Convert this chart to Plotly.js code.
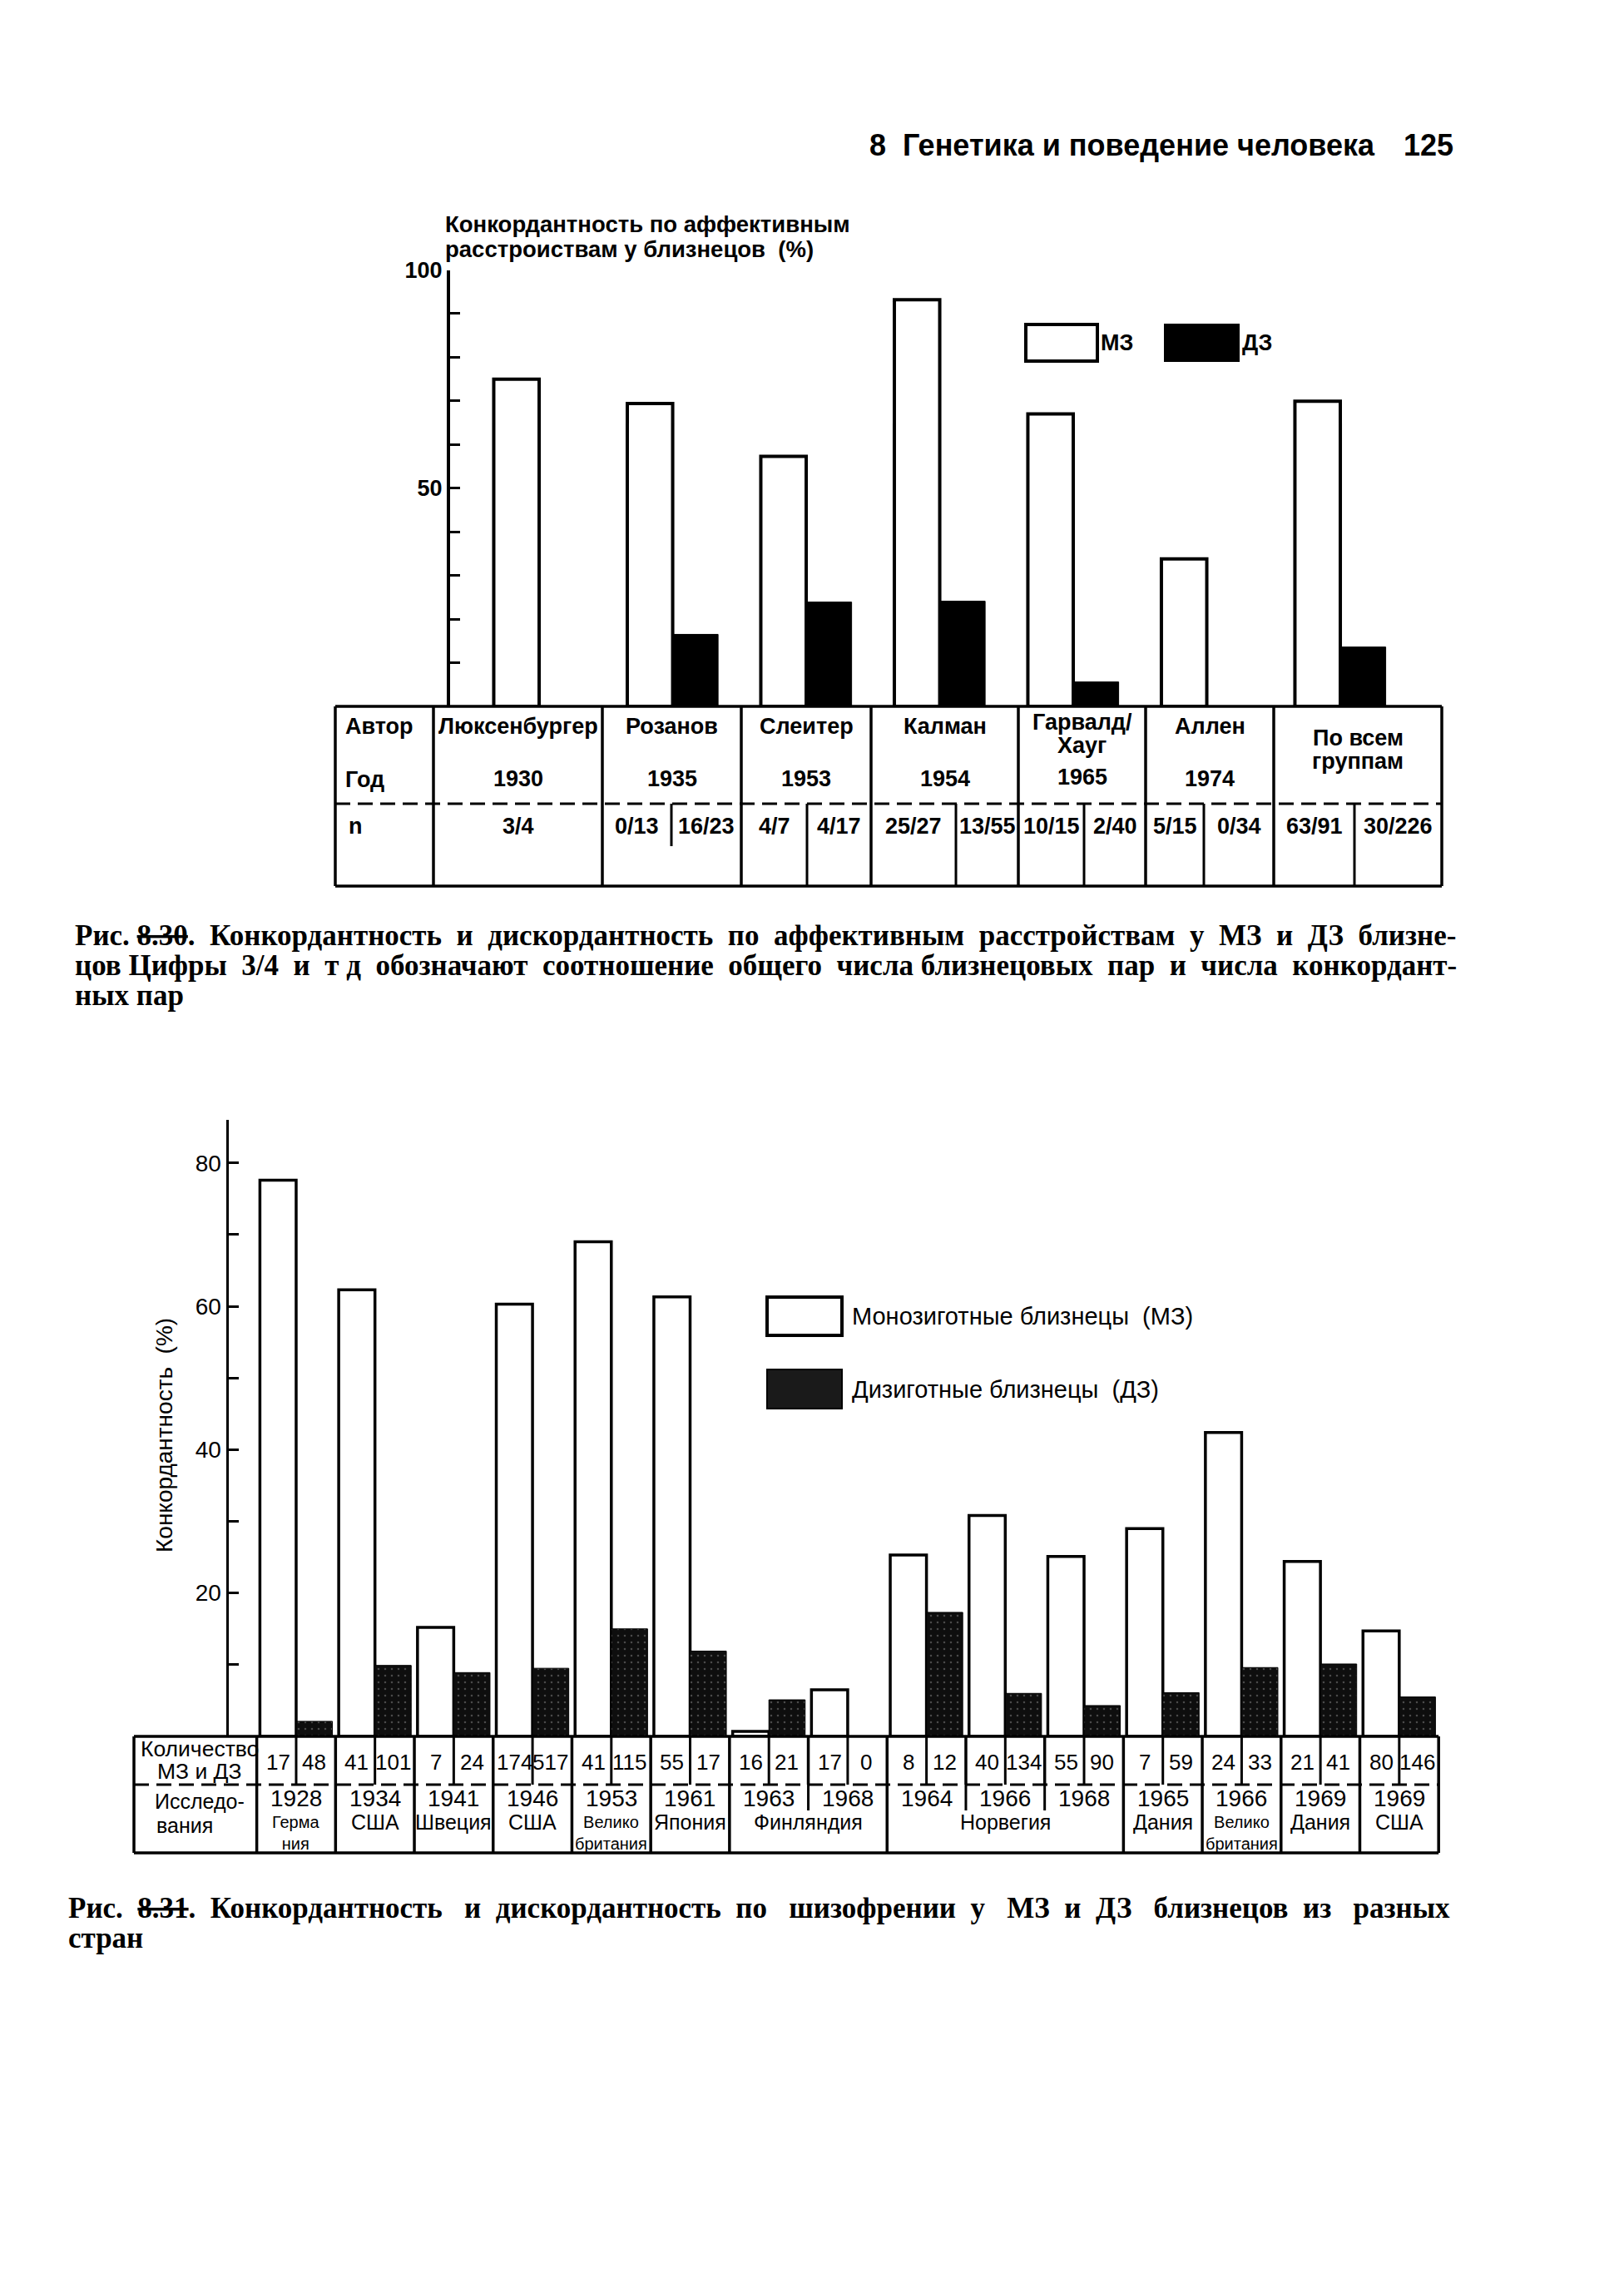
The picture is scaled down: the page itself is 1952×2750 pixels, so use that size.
<!DOCTYPE html>
<html><head><meta charset="utf-8">
<script src="https://cdn.plot.ly/plotly-3.0.1.min.js"></script>
<style>html,body{margin:0;padding:0;background:#fff}</style>
</head><body>
<div id="page" style="width:1952px;height:2750px"></div>
<script>
// ================= DATA =================
// Fig. 8.30 (affective disorders)
const authors1  = ['Люксенбургер','Розанов','Слеитер','Калман','Гарвалд/|Хауг','Аллен','По всем|группам'];
const years1    = ['1930','1935','1953','1954','1965','1974',''];
const nLeft1    = ['3/4','0/13','4/7','25/27','10/15','5/15','63/91'];
const nRight1   = ['','16/23','4/17','13/55','2/40','0/34','30/226'];
const mz1       = [75.0, 69.4, 57.3, 93.2, 67.0, 33.8, 69.9];
const dz1       = [null, 16.5, 23.9, 24.1, 5.6, 0, 13.6];
const tick1Vals   = [10,20,30,40,50,60,70,80,90,100];
const tick1Labels = ['','','','','50','','','','','100'];

// Fig. 8.31 (schizophrenia)
const studyYears2     = ['1928','1934','1941','1946','1953','1961','1963','1968','1964','1966','1968','1965','1966','1969','1969'];
const studyCountries2 = ['Герма|ния','США','Швеция','США','Велико|британия','Япония','Финляндия','Финляндия','Норвегия','Норвегия','Норвегия','Дания','Велико|британия','Дания','США'];
const mzN2 = [17,41,7,174,41,55,16,17,8,40,55,7,24,21,80];
const dzN2 = [48,101,24,517,115,17,21,0,12,134,90,59,33,41,146];
const mz2  = [77.6, 62.3, 15.2, 60.3, 69.0, 61.3, 0.7, 6.5, 25.3, 30.8, 25.1, 29.0, 42.4, 24.4, 14.7];
const dz2  = [2.1, 9.9, 8.9, 9.5, 15.0, 11.9, 5.1, 0, 17.3, 6.0, 4.3, 6.1, 9.6, 10.1, 5.5];
const tick2Vals   = [10,20,30,40,50,60,70,80];
const tick2Labels = ['','20','','40','','60','','80'];

// captions
const caption1 = [
  'Рис. <s>8.30</s>. Конкордантность и дискордантность по аффективным расстройствам у МЗ и ДЗ близне-',
  'цов Цифры 3/4 и т д обозначают соотношение общего числа близнецовых пар и числа конкордант-',
  'ных пар'
];
const caption2 = [
  'Рис. <s>8.31</s>. Конкордантность и дискордантность по шизофрении у МЗ и ДЗ близнецов из разных',
  'стран'
];

// ================= LAYOUT HELPERS =================
const W = 1952, H = 2750;
const fx = p => p / W;
const fy = p => 1 - p / H;
const SANS = 'Liberation Sans, Arial, Helvetica, sans-serif';
const SERIF = 'Liberation Serif, Times New Roman, serif';
const BLACK = '#000';
const NUMFONT = {family:SANS, size:26, color:BLACK};

const shapes = [];
const annotations = [];
function hline(x0, x1, y, w, dash) {
  shapes.push({type:'line', xref:'paper', yref:'paper', x0:fx(x0), x1:fx(x1), y0:fy(y), y1:fy(y),
    line:{color:BLACK, width:w||3, dash:dash||'solid'}});
}
function vline(x, y0, y1, w) {
  shapes.push({type:'line', xref:'paper', yref:'paper', x0:fx(x), x1:fx(x), y0:fy(y0), y1:fy(y1),
    line:{color:BLACK, width:w||3}});
}
function rect(x0, y0, x1, y1, fill, w) {
  shapes.push({type:'rect', xref:'paper', yref:'paper', x0:fx(x0), x1:fx(x1), y0:fy(y1), y1:fy(y0),
    fillcolor:fill, line:{color:BLACK, width:w}});
}
function txt(x, y, text, font, opts) {
  annotations.push(Object.assign({xref:'paper', yref:'paper', x:fx(x), y:fy(y), text:text, showarrow:false,
    xanchor:'center', yanchor:'middle', font:font}, opts||{}));
}
function txtLines(x, y, text, font, gap, opts) {
  const lines = text.split('|');
  lines.forEach((l, k) => txt(x, y + (k - (lines.length-1)/2)*gap, l, font, opts));
}
// widen word gaps with no-break spaces so that a line spans the target width (justified text)
function justify(text, font, target) {
  const c = document.createElement('canvas').getContext('2d');
  c.font = (font.weight === 'bold' ? 'bold ' : '') + font.size + 'px ' + font.family;
  const w = c.measureText(text.replace(/<[^>]+>/g, '')).width;
  const nbw = c.measureText('\u00a0').width || font.size * 0.25;
  const words = text.split(' ');
  const gaps = words.length - 1;
  const extra = Math.max(0, Math.round((target - w) / nbw));
  let out = words[0];
  for (let g = 0; g < gaps; g++) {
    const n = Math.floor(extra * (g + 1) / gaps) - Math.floor(extra * g / gaps);
    out += ' ' + '\u00a0'.repeat(n) + words[g + 1];
  }
  return out;
}

// ================= PAGE HEADER =================
const HDR = {family:SANS, size:36, color:BLACK, weight:'bold'};
txt(1043, 175, '8  Генетика и поведение человека', HDR, {xanchor:'left'});
txt(1749, 175, '125', HDR, {xanchor:'right'});

// ================= CHART 1 =================
const X1_DOM = [541, 1733], X1_RANGE = [-0.667, 6.76];
const Y1_PX = [849, 324.5];
const BW1 = 0.34;
const cats1 = authors1.map(a => a.replace('|', ' '));
const B1 = {family:SANS, size:27, color:BLACK, weight:'bold'};
const T1F = {family:SANS, size:27, color:BLACK, weight:'bold'};

txt(533, 270, 'Конкордантность по аффективным', {family:SANS, size:27.5, color:BLACK, weight:'bold'}, {xanchor:'left'});
txt(533, 299, 'расстроиствам у близнецов  (%)', {family:SANS, size:27.5, color:BLACK, weight:'bold'}, {xanchor:'left'});

// legend 1
rect(1233, 390, 1319, 434, '#fff', 4);
txt(1321, 412, 'МЗ', B1, {xanchor:'left'});
rect(1400, 390, 1489, 434, '#000', 2);
txt(1491, 412, 'ДЗ', B1, {xanchor:'left'});

// table 1
const T1 = {left:403, right:1733, top:849, mid:966, bottom:1065};
const edges1 = [403, 521, 724, 891, 1047, 1224, 1377, 1531, 1733];
const sub1 = [null, 807, 970, 1149, 1303, 1447, 1628];
hline(T1.left, T1.right, T1.top, 3.5);
hline(T1.left, T1.right, T1.bottom, 3.5);
hline(T1.left, T1.right, T1.mid, 3, '18px,9px');
edges1.forEach(x => vline(x, T1.top, T1.bottom, 3.5));
sub1.forEach((x, i) => { if (x !== null) vline(x, T1.mid, i === 1 ? 1017 : T1.bottom, 3); });
txt(413, 873, 'Автор', T1F, {xanchor:'left'});
txt(413, 937, 'Год', T1F, {xanchor:'left'});
txt(417, 993, 'n', T1F, {xanchor:'left'});
authors1.forEach((a, i) => {
  const l = edges1[i+1], r = edges1[i+2], c = (l + r) / 2;
  const nl = a.split('|').length;
  txtLines(c, nl > 1 ? (i === 6 ? 901 : 882) : 873, a, T1F, 28);
  if (years1[i]) txt(c, i === 4 ? 934 : 936, years1[i], T1F);
  if (sub1[i] === null) {
    txt(c, 993, nLeft1[i], T1F);
  } else {
    txt((l + sub1[i]) / 2, 993, nLeft1[i], T1F);
    txt((sub1[i] + r) / 2, 993, nRight1[i], T1F);
  }
});

// caption 1
const CAP = {family:SERIF, size:35, color:BLACK, weight:'bold'};
const CAP_Y1 = [1124, 1160, 1196];
caption1.forEach((line, k) => {
  const t = k < caption1.length - 1 ? justify(line, CAP, 1745 - 88) : line;
  txt(88, CAP_Y1[k], t, CAP, {xanchor:'left'});
});

// ================= CHART 2 =================
const X2_DOM = [275, 1736], X2_RANGE = [-0.855, 14.572];
const Y2_PX = [2087, 1346];
const BW2 = 0.46;
const cats2 = studyYears2.map((y, i) => y + ' ' + studyCountries2[i].replace('|', ''));
const x2px = v => X2_DOM[0] + (v - X2_RANGE[0]) / (X2_RANGE[1] - X2_RANGE[0]) * (X2_DOM[1] - X2_DOM[0]);
const R2 = {family:SANS, size:29, color:BLACK};

// legend 2
rect(922, 1559, 1012, 1605, '#fff', 4);
txt(1022, 1582, 'Монозиготные близнецы  (МЗ)', R2, {xanchor:'left'});
rect(922, 1646, 1012, 1693, '#1a1a1a', 2);
txt(1022, 1670, 'Дизиготные близнецы  (ДЗ)', R2, {xanchor:'left'});

// y title 2
txt(197, 1725, 'Конкордантность  (%)', {family:SANS, size:28, color:BLACK}, {textangle:-90});

// table 2
const T2 = {left:161, right:x2px(studyYears2.length - 0.5), top:2087, mid:2145, bottom:2227};
hline(T2.left, T2.right, T2.top, 3.5);
hline(T2.left, T2.right, T2.bottom, 3.5);
hline(T2.left, T2.right, T2.mid, 3, '18px,9px');
vline(T2.left, T2.top, T2.bottom, 3.5);
vline(x2px(-0.5), T2.top, T2.bottom, 3.5);
vline(T2.right, T2.top, T2.bottom, 3.5);
for (let i = 0; i < studyYears2.length - 1; i++) {
  const b = x2px(i + 0.5);
  if (studyCountries2[i] === studyCountries2[i+1]) {
    vline(b, T2.top, T2.mid, 3.5);
    vline(b, T2.mid, 2176, 3);
  } else {
    vline(b, T2.top, T2.bottom, 3.5);
  }
}
studyYears2.forEach((y, i) => vline(x2px(i), T2.top, T2.mid, 3));

const H2F = {family:SANS, size:26.5, color:BLACK};
txt(240, 2102, 'Количество', H2F);
txt(240, 2129, 'МЗ и ДЗ', H2F);
txt(240, 2165, 'Исследо-', {family:SANS, size:25, color:BLACK});
txt(186, 2194, 'вания', {family:SANS, size:25, color:BLACK}, {xanchor:'left'});

studyYears2.forEach((y, i) => {
  annotations.push({xref:'x2', yref:'paper', x:i - BW2/2, y:fy(2118), text:String(mzN2[i]), showarrow:false,
    xanchor:'center', yanchor:'middle', font:NUMFONT});
  annotations.push({xref:'x2', yref:'paper', x:i + BW2/2, y:fy(2118), text:String(dzN2[i]), showarrow:false,
    xanchor:'center', yanchor:'middle', font:NUMFONT});
  annotations.push({xref:'x2', yref:'paper', x:i, y:fy(2161), text:y, showarrow:false,
    xanchor:'center', yanchor:'middle', font:{family:SANS, size:28, color:BLACK}});
});
// country groups (consecutive identical countries share one label)
let g0 = 0;
for (let i = 1; i <= studyCountries2.length; i++) {
  if (i === studyCountries2.length || studyCountries2[i] !== studyCountries2[g0]) {
    const c = (g0 + i - 1) / 2;
    const lines = studyCountries2[g0].split('|');
    const two = lines.length > 1;
    annotations.push({xref:'x2', yref:'paper', x:c, y:fy(two ? 2203 : 2190), text:lines.join('<br>'),
      showarrow:false, xanchor:'center', yanchor:'middle', align:'center',
      font:{family:SANS, size:two ? 20 : 25, color:BLACK}});
    g0 = i;
  }
}

// caption 2
const CAP_Y2 = [2293, 2329];
caption2.forEach((line, k) => {
  const t = k < caption2.length - 1 ? justify(line, CAP, 1741 - 80) : line;
  txt(80, CAP_Y2[k], t, CAP, {xanchor:'left'});
});

// ================= TRACES =================
const traces = [
  {type:'bar', name:'МЗ', x:cats1, y:mz1, xaxis:'x', yaxis:'y', width:BW1, offset:-BW1,
   marker:{color:'#fff', line:{color:BLACK, width:4}}, hoverinfo:'skip'},
  {type:'bar', name:'ДЗ', x:cats1, y:dz1, xaxis:'x', yaxis:'y', width:BW1, offset:0,
   marker:{color:'#000', line:{color:BLACK, width:1}}, hoverinfo:'skip'},
  {type:'bar', name:'МЗ', x:cats2, y:mz2, xaxis:'x2', yaxis:'y2', width:BW2, offset:-BW2,
   marker:{color:'#fff', line:{color:BLACK, width:3.5}}, hoverinfo:'skip'},
  {type:'bar', name:'ДЗ', x:cats2, y:dz2, xaxis:'x2', yaxis:'y2', width:BW2, offset:0,
   marker:{color:'#0e0e0e', line:{color:'#000', width:1},
           pattern:{shape:'.', fgcolor:'#4a4a4a', bgcolor:'#0e0e0e', size:8, solidity:0.08}}, hoverinfo:'skip'}
];

const hiddenX = {showline:false, showticklabels:false, ticks:'', showgrid:false, zeroline:false, fixedrange:true, type:'category'};
const layout = {
  width:W, height:H, margin:{l:0, r:0, t:0, b:0},
  paper_bgcolor:'#fff', plot_bgcolor:'rgba(0,0,0,0)',
  showlegend:false, barmode:'overlay',
  xaxis: Object.assign({}, hiddenX, {domain:[fx(X1_DOM[0]), fx(X1_DOM[1])], range:X1_RANGE, anchor:'y'}),
  yaxis: {domain:[fy(Y1_PX[0]), fy(Y1_PX[1])], range:[0,100], anchor:'x', showline:true, linecolor:BLACK, linewidth:4,
          ticks:'inside', ticklen:12, tickwidth:3, tickcolor:BLACK, tickmode:'array', tickvals:tick1Vals, ticktext:tick1Labels,
          tickfont:{family:SANS, size:27, color:BLACK, weight:'bold'}, showgrid:false, zeroline:false, fixedrange:true},
  xaxis2: Object.assign({}, hiddenX, {domain:[fx(X2_DOM[0]), fx(X2_DOM[1])], range:X2_RANGE, anchor:'y2'}),
  yaxis2: {domain:[fy(Y2_PX[0]), fy(Y2_PX[1])], range:[0,86], anchor:'x2', showline:true, linecolor:BLACK, linewidth:3.5,
          ticks:'inside', ticklen:12, tickwidth:3, tickcolor:BLACK, tickmode:'array', tickvals:tick2Vals, ticktext:tick2Labels,
          tickfont:{family:SANS, size:28, color:BLACK}, showgrid:false, zeroline:false, fixedrange:true},
  shapes: shapes,
  annotations: annotations
};
Plotly.newPlot('page', traces, layout, {staticPlot:true, displayModeBar:false});
</script>
</body></html>
